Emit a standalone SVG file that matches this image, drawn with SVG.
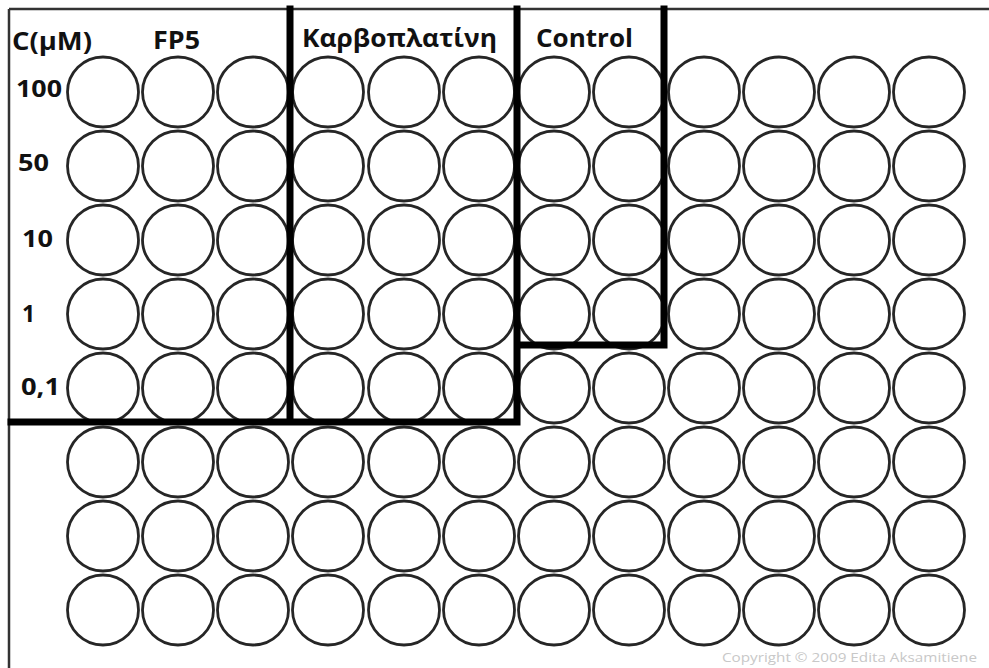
<svg xmlns="http://www.w3.org/2000/svg" width="989" height="668" viewBox="0 0 989 668">
<defs>
<style>
.w{fill:none;stroke:#262626;stroke-width:2.8}
.t{font-family:"Open Sans","Liberation Sans",sans-serif;font-weight:bold;font-size:25px;fill:#111}
.r{font-size:23px}
.b{fill:none;stroke:#000;stroke-width:7;stroke-linecap:square}
.f{fill:none;stroke:#333;stroke-width:2.5}
.c{font-family:"Open Sans","Liberation Sans",sans-serif;font-size:12.5px;fill:#c8c8c8}
</style>
<ellipse id="well" class="w" cx="0" cy="0" rx="35.5" ry="35"/>
</defs>
<rect width="989" height="668" fill="#fff"/>
<g id="frame">
<line class="f" x1="9" y1="9" x2="989" y2="9"/>
<line class="f" x1="9" y1="9" x2="9" y2="668"/>
</g>
<g id="wells">
<g id="row1" transform="translate(0,92)">
<use href="#well" x="103"/><use href="#well" x="178"/><use href="#well" x="253"/><use href="#well" x="328"/><use href="#well" x="404"/><use href="#well" x="479"/><use href="#well" x="554"/><use href="#well" x="629"/><use href="#well" x="704"/><use href="#well" x="779"/><use href="#well" x="854"/><use href="#well" x="929"/>
</g>
<g id="row2" transform="translate(0,166)">
<use href="#well" x="103"/><use href="#well" x="178"/><use href="#well" x="253"/><use href="#well" x="328"/><use href="#well" x="404"/><use href="#well" x="479"/><use href="#well" x="554"/><use href="#well" x="629"/><use href="#well" x="704"/><use href="#well" x="779"/><use href="#well" x="854"/><use href="#well" x="929"/>
</g>
<g id="row3" transform="translate(0,240)">
<use href="#well" x="103"/><use href="#well" x="178"/><use href="#well" x="253"/><use href="#well" x="328"/><use href="#well" x="404"/><use href="#well" x="479"/><use href="#well" x="554"/><use href="#well" x="629"/><use href="#well" x="704"/><use href="#well" x="779"/><use href="#well" x="854"/><use href="#well" x="929"/>
</g>
<g id="row4" transform="translate(0,314)">
<use href="#well" x="103"/><use href="#well" x="178"/><use href="#well" x="253"/><use href="#well" x="328"/><use href="#well" x="404"/><use href="#well" x="479"/><use href="#well" x="554"/><use href="#well" x="629"/><use href="#well" x="704"/><use href="#well" x="779"/><use href="#well" x="854"/><use href="#well" x="929"/>
</g>
<g id="row5" transform="translate(0,388)">
<use href="#well" x="103"/><use href="#well" x="178"/><use href="#well" x="253"/><use href="#well" x="328"/><use href="#well" x="404"/><use href="#well" x="479"/><use href="#well" x="554"/><use href="#well" x="629"/><use href="#well" x="704"/><use href="#well" x="779"/><use href="#well" x="854"/><use href="#well" x="929"/>
</g>
<g id="row6" transform="translate(0,462)">
<use href="#well" x="103"/><use href="#well" x="178"/><use href="#well" x="253"/><use href="#well" x="328"/><use href="#well" x="404"/><use href="#well" x="479"/><use href="#well" x="554"/><use href="#well" x="629"/><use href="#well" x="704"/><use href="#well" x="779"/><use href="#well" x="854"/><use href="#well" x="929"/>
</g>
<g id="row7" transform="translate(0,536)">
<use href="#well" x="103"/><use href="#well" x="178"/><use href="#well" x="253"/><use href="#well" x="328"/><use href="#well" x="404"/><use href="#well" x="479"/><use href="#well" x="554"/><use href="#well" x="629"/><use href="#well" x="704"/><use href="#well" x="779"/><use href="#well" x="854"/><use href="#well" x="929"/>
</g>
<g id="row8" transform="translate(0,610)">
<use href="#well" x="103"/><use href="#well" x="178"/><use href="#well" x="253"/><use href="#well" x="328"/><use href="#well" x="404"/><use href="#well" x="479"/><use href="#well" x="554"/><use href="#well" x="629"/><use href="#well" x="704"/><use href="#well" x="779"/><use href="#well" x="854"/><use href="#well" x="929"/>
</g>
</g>
<g id="boxes">
<path class="b" d="M290,9 V422 M11,422 H517 V9 M517,345 H664 V9"/>
</g>
<g id="labels">
<text class="t" x="12" y="50" textLength="80" lengthAdjust="spacingAndGlyphs">C(μM)</text>
<text class="t" x="153" y="49" textLength="47" lengthAdjust="spacingAndGlyphs">FP5</text>
<text class="t" x="302" y="47" textLength="195" lengthAdjust="spacingAndGlyphs">Καρβοπλατίνη</text>
<text class="t" x="536" y="47" textLength="97" lengthAdjust="spacingAndGlyphs">Control</text>
<text class="t r" x="16" y="97" textLength="46" lengthAdjust="spacingAndGlyphs">100</text>
<text class="t r" x="18" y="171" textLength="31" lengthAdjust="spacingAndGlyphs">50</text>
<text class="t r" x="22" y="247" textLength="31" lengthAdjust="spacingAndGlyphs">10</text>
<text class="t r" x="22" y="322">1</text>
<text class="t r" x="21" y="395" textLength="39" lengthAdjust="spacingAndGlyphs">0,1</text>
<text class="c" x="722" y="662" textLength="255" lengthAdjust="spacingAndGlyphs">Copyright © 2009 Edita Aksamitiene</text>
</g>
</svg>
